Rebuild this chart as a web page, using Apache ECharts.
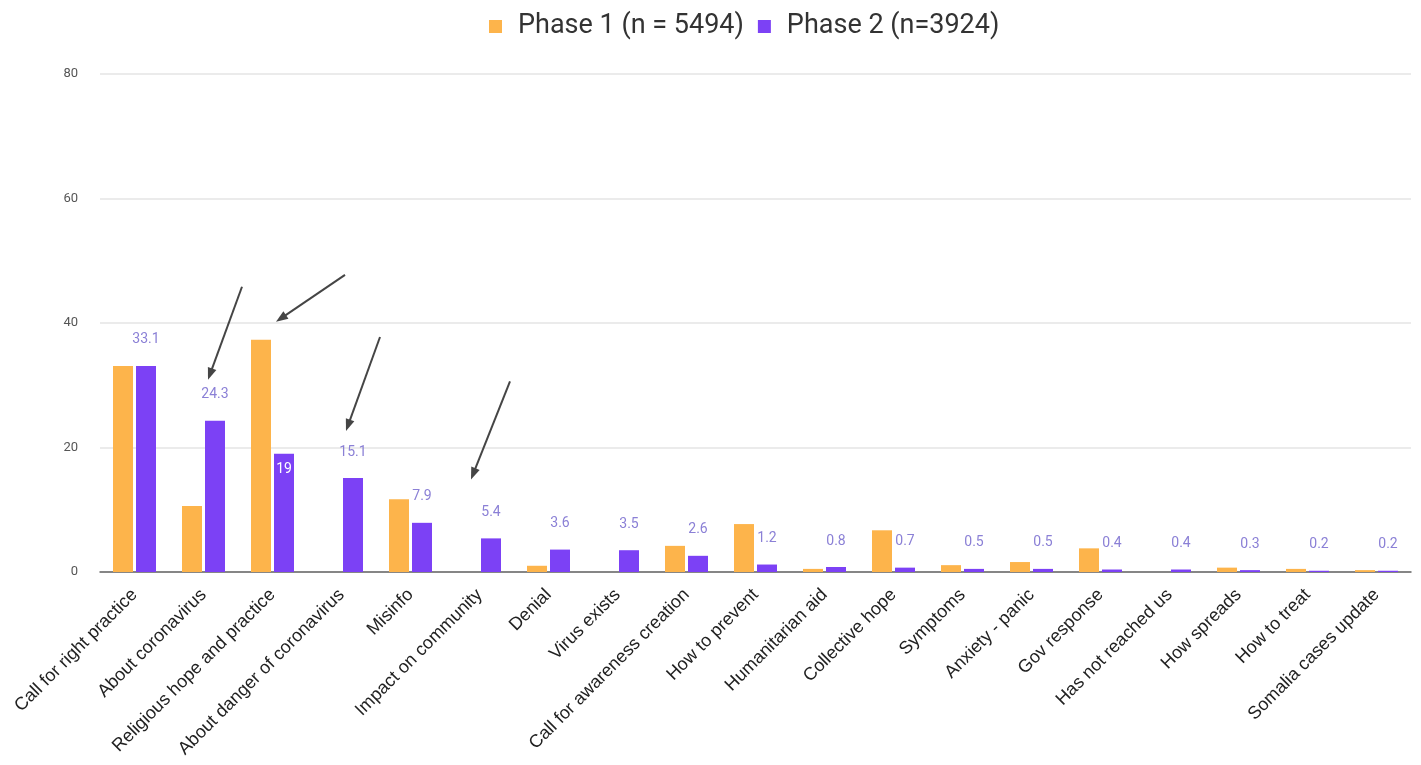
<!DOCTYPE html>
<html>
<head>
<meta charset="utf-8">
<script src="https://cdn.jsdelivr.net/npm/echarts@6/dist/echarts.min.js"></script>
<style>
  html, body { margin: 0; padding: 0; background: #fff; }
  #chart { width: 1421px; height: 765px; }
</style>
</head>
<body>
<div id="chart"></div>
<script>
// Topics mentioned in feedback, share of messages (%) per phase
const categories = [
  'Call for right practice', 'About coronavirus', 'Religious hope and practice',
  'About danger of coronavirus', 'Misinfo', 'Impact on community', 'Denial',
  'Virus exists', 'Call for awareness creation', 'How to prevent',
  'Humanitarian aid', 'Collective hope', 'Symptoms', 'Anxiety - panic',
  'Gov response', 'Has not reached us', 'How spreads', 'How to treat',
  'Somalia cases update'
];
const phase1 = [33.1, 10.6, 37.3, 0, 11.7, 0, 1.0, 0, 4.2, 7.7, 0.5, 6.7, 1.1, 1.6, 3.8, 0, 0.7, 0.5, 0.3];
const phase2 = [33.1, 24.3, 19, 15.1, 7.9, 5.4, 3.6, 3.5, 2.6, 1.2, 0.8, 0.7, 0.5, 0.5, 0.4, 0.4, 0.3, 0.2, 0.2];
const seriesNames = ['Phase 1 (n = 5494)', 'Phase 2 (n=3924)'];
const yTicks = [0, 20, 40, 60, 80];

const ORANGE = '#fdb44b';
const PURPLE = '#7c41f5';

// Phase 2 labels drawn inside the bar (where the label would hit the neighbour bar)
const insideLabel = new Set(['Religious hope and practice']);

const phase2Data = phase2.map((v, i) => insideLabel.has(categories[i])
  ? { value: v, label: { position: 'insideTop', distance: 9, color: '#ffffff' } }
  : v);

const chart = echarts.init(document.getElementById('chart'));
chart.setOption({
  animation: false,
  backgroundColor: '#ffffff',
  legend: {
    top: 8,
    left: 484,
    itemWidth: 13,
    itemHeight: 13,
    itemGap: 14,
    icon: 'rect',
    textStyle: { fontFamily: 'Roboto', fontSize: 27, color: '#333', padding: [0, 0, 0, 11] },
    data: seriesNames
  },
  grid: { left: 100, right: 10, top: 74, bottom: 193, containLabel: false },
  xAxis: {
    type: 'category',
    data: categories,
    axisTick: { show: false },
    axisLine: { lineStyle: { color: '#666', width: 1.5 } },
    axisLabel: {
      rotate: 45, interval: 0, margin: 20, padding: [30, 0, 0, 0],
      fontFamily: 'Liberation Sans', fontSize: 18, color: '#222'
    }
  },
  yAxis: {
    type: 'value',
    min: yTicks[0],
    max: yTicks[yTicks.length - 1],
    interval: 20,
    axisLine: { show: false },
    axisTick: { show: false },
    splitLine: { lineStyle: { color: '#e4e4e4', width: 1.5 } },
    axisLabel: { margin: 22, fontFamily: 'Roboto', fontSize: 13, color: '#555' }
  },
  series: [
    {
      name: seriesNames[0], type: 'bar', data: phase1,
      barWidth: 20, barGap: '15%',
      itemStyle: { color: ORANGE }
    },
    {
      name: seriesNames[1], type: 'bar', data: phase2Data,
      barWidth: 20, barGap: '15%',
      itemStyle: { color: PURPLE },
      label: {
        show: true, position: 'top', distance: 19,
        fontFamily: 'Roboto', fontSize: 14, color: '#8b80d6'
      }
    }
  ]
});

// Annotation arrows, anchored to bars: [category, seriesIndex, tip offset from bar top, tail offset from tip]
const arrows = [
  ['About coronavirus', 1, [-7, -41], [34, -93]],
  ['Religious hope and practice', 0, [15, -18], [69, -47]],
  ['About danger of coronavirus', 1, [-7, -47], [34, -94]],
  ['Impact on community', 1, [-20, -59], [39, -98]]
];

function barTop(seriesIndex, idx) {
  const lay = chart.getModel().getSeriesByIndex(seriesIndex).getData().getItemLayout(idx);
  return [lay.x + lay.width / 2, Math.min(lay.y, lay.y + lay.height)];
}

const graphics = [];
arrows.forEach(([cat, s, tipOff, tailOff]) => {
  const [bx, by] = barTop(s, categories.indexOf(cat));
  const tx = bx + tipOff[0], ty = by + tipOff[1];
  const sx = tx + tailOff[0], sy = ty + tailOff[1];
  const len = Math.hypot(tx - sx, ty - sy);
  const ux = (tx - sx) / len, uy = (ty - sy) / len;
  const headLen = 12, headW = 4.5;
  const baseX = tx - ux * headLen, baseY = ty - uy * headLen;
  graphics.push({
    type: 'line', silent: true,
    shape: { x1: sx, y1: sy, x2: baseX + ux * 2, y2: baseY + uy * 2 },
    style: { stroke: '#454545', lineWidth: 2 }
  });
  graphics.push({
    type: 'polygon', silent: true,
    shape: { points: [[tx, ty], [baseX - uy * headW, baseY + ux * headW], [baseX + uy * headW, baseY - ux * headW]] },
    style: { fill: '#454545' }
  });
});
chart.setOption({ graphic: graphics });
</script>
</body>
</html>
